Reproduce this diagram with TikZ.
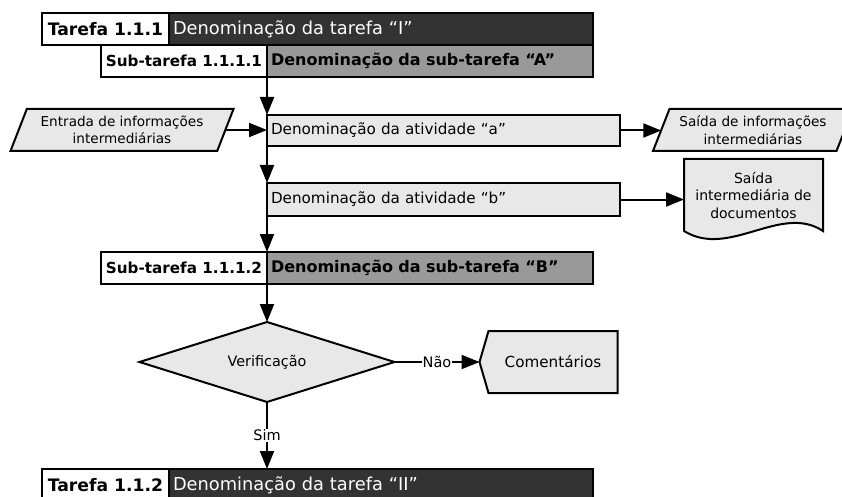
\documentclass[tikz,border=0pt]{standalone}
\usepackage{fontspec}
\setmainfont{DejaVu Sans}
\usepackage{tikz}
\usetikzlibrary{
  arrows.meta,%
  shapes.geometric,%
  calc,%
  backgrounds,%
  positioning
}
\definecolor{taskdark}{HTML}{333333}
\definecolor{subgrey}{HTML}{999999}
\definecolor{actfill}{HTML}{E8E8E8}
\tikzset{>={Triangle[length=18pt, width=14pt]}}
\tikzset{
  box/.style={draw=black, outer sep=0pt, inner xsep=4pt, inner ysep=0pt,
    minimum height=32pt},
  numbox/.style={box, fill=white, font=\bfseries\fontsize{15.2}{18}\selectfont},
  tasknum/.style={numbox, font=\bfseries\fontsize{17.2}{20}\selectfont},
  taskname/.style={box, fill=taskdark, text=white, align=left,
    font=\fontsize{17.8}{20}\selectfont},
  subname/.style={box, fill=subgrey, align=left,
    font=\bfseries\fontsize{16}{18}\selectfont},
  actbox/.style={box, fill=actfill, align=left, minimum height=31pt,
    font=\fontsize{15.2}{18}\selectfont},
  iobox/.style={trapezium, trapezium left angle=60, trapezium right angle=120,
    trapezium stretches body=true, draw=black, fill=actfill, align=center,
    minimum height=42pt, inner sep=0pt, outer sep=0pt,
    font=\fontsize{13.6}{17.5}\selectfont},
  shapetext/.style={minimum width=137pt, minimum height=70pt, inner sep=0pt,
    align=center, font=\fontsize{14}{17.5}\selectfont},
  outline/.style={fill=actfill, draw=black, line width=2pt},
  decision/.style={diamond, aspect=3, draw=black, fill=actfill,
    minimum width=255pt, minimum height=80pt, inner sep=0pt, outer sep=0pt,
    font=\fontsize{14.4}{17}\selectfont},
  flowlabel/.style={fill=white, inner sep=1pt, font=\fontsize{14.5}{16}\selectfont}
}

\begin{document}
\begin{tikzpicture}[x=1pt, y=-1pt, line width=2pt]
  \useasboundingbox (0,0) rectangle (842,497); %
  % tarefa 1.1.1
  \node[tasknum, minimum width=127pt, anchor=north west] (t1num) at (42,13) {Tarefa 1.1.1}; %
  \node[taskname, text width=416pt, right=0pt of t1num] (t1name) {Denominação da tarefa “I”}; %
  % sub-tarefa 1.1.1.1
  \node[numbox, minimum width=166pt, anchor=north west] (s1num) at (101,45) {Sub-tarefa 1.1.1.1}; %
  \node[subname, text width=318pt, right=0pt of s1num] (s1name) {Denominação da sub-tarefa “A”}; %
  % atividades
  \node[actbox, text width=345pt, anchor=north west] (acta) at (267,115) {Denominação da atividade “a”}; %
  \node[actbox, text width=345pt, anchor=north west, minimum height=33pt] (actb) at (267,183) {Denominação da atividade “b”}; %
  \node[iobox, minimum width=223pt] (ina) at (122,130) {Entrada de informações\\intermediárias}; %
  \node[iobox, minimum width=200pt] (outa) at (753,130) {Saída de informações\\intermediárias}; %
  \node[shapetext] (doc) at (753.5,195) {Saída\\intermediária de\\documentos}; %
  % sub-tarefa 1.1.1.2
  \node[numbox, minimum width=166pt, anchor=north west] (s2num) at (101,252) {Sub-tarefa 1.1.1.2}; %
  \node[subname, text width=318pt, right=0pt of s2num] (s2name) {Denominação da sub-tarefa “B”}; %
  % verificacao
  \node[decision] (dec) at (267,362) {Verificação}; %
  \node[shapetext, minimum width=127pt, minimum height=60pt, font=\fontsize{15.2}{17}\selectfont] (comm) at (553,362) {Comentários}; %
  \coordinate (commtip) at ($(comm.west)+(-9,0)$); %
  % tarefa 1.1.2
  \node[tasknum, minimum width=127pt, anchor=north west] (t2num) at (42,469) {Tarefa 1.1.2}; %
  \node[taskname, text width=416pt, right=0pt of t2num] (t2name) {Denominação da tarefa “II”}; %
  \begin{scope}[on background layer]
    \filldraw[outline] (doc.north west) -- (doc.north east) -- (doc.south east)
      .. controls ($(doc.south east)+(-42,-28)$) and ($(doc.south west)+(45,28)$)
      .. (doc.south west) -- cycle; %
    \filldraw[outline] (commtip) -- (comm.north west) -- (comm.north east)
      -- (comm.south east) -- (comm.south west) -- cycle; %
  \end{scope}
  % fluxo
  \draw[->] (s1name.south west) -- (acta.north west); %
  \draw[->] (ina.east) -- (ina.east -| acta.west); %
  \draw[->] (acta.east) -- (acta.east -| outa.west); %
  \draw[->] (acta.south west) -- (actb.north west); %
  \draw[->] (actb.east) -- (actb.east -| doc.west); %
  \draw[->] (actb.south west) -- (s2name.north west); %
  \draw[->] (s2name.south west) -- (dec.north); %
  \draw[->] (dec.east) -- node[flowlabel] {Não} (commtip); %
  \draw[->] (dec.south) -- node[flowlabel] {Sim} (dec.south |- t2name.north); %
\end{tikzpicture}
\end{document}
